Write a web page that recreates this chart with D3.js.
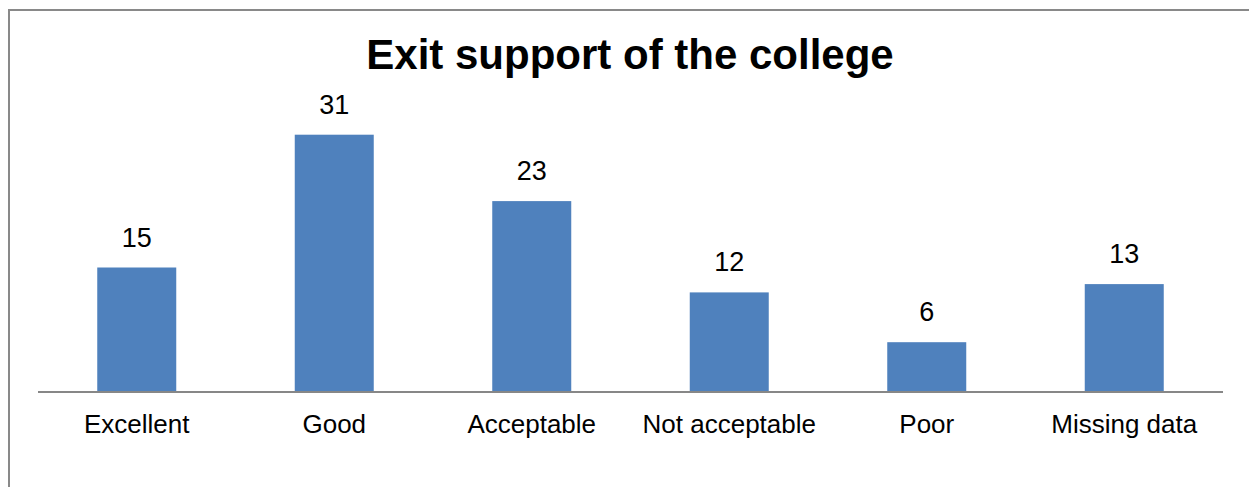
<!DOCTYPE html>
<html><head><meta charset="utf-8">
<script src="https://cdn.jsdelivr.net/npm/d3@7"></script>
<style>body{margin:0;background:#fff}svg{display:block}</style>
</head><body>
<script>
const categories = ["Excellent","Good","Acceptable","Not acceptable","Poor","Missing data"];
const values = [15,31,23,12,6,13];
const title = "Exit support of the college";

const W = 1249, H = 487;
const svg = d3.select("body").append("svg").attr("width", W).attr("height", H);

svg.append("rect").attr("x", 9).attr("y", 10).attr("width", 1400).attr("height", 800)
  .attr("fill", "#fff").attr("stroke", "#898989").attr("stroke-width", 2);

const x = d3.scaleBand().domain(categories).range([38, 1223]).paddingInner(0.6).paddingOuter(0.3);
const y = d3.scaleLinear().domain([0, 35]).range([392, 101.5]);

svg.selectAll("rect.bar").data(values).enter().append("rect").attr("class","bar")
  .attr("x", (d,i) => x(categories[i])).attr("width", x.bandwidth())
  .attr("y", d => y(d)).attr("height", d => y(0) - y(d))
  .attr("fill", "#4F81BD");

const axis = svg.append("g").attr("transform", `translate(0,${y(0)})`)
  .call(d3.axisBottom(x).tickSize(0).tickPadding(0));
axis.select(".domain").attr("stroke", "#878787").attr("stroke-width", 2).attr("d", "M38,0H1223");
axis.selectAll(".tick text").attr("dy", null).attr("y", 41)
  .attr("font-family", "Liberation Sans, Arial, sans-serif").attr("font-size", 26).attr("fill", "#000");

svg.selectAll("text.val").data(values).enter().append("text").attr("class","val")
  .attr("x", (d,i) => x(categories[i]) + x.bandwidth()/2).attr("y", d => y(d) - 21)
  .attr("text-anchor", "middle").attr("font-family", "Liberation Sans, Arial, sans-serif")
  .attr("font-size", 27).attr("fill", "#000").text(d => d);

svg.append("text").attr("x", 630).attr("y", 69).attr("text-anchor", "middle")
  .attr("font-family", "Liberation Sans, Arial, sans-serif").attr("font-weight", "bold")
  .attr("font-size", 42).attr("fill", "#000").text(title);
</script>
</body></html>
